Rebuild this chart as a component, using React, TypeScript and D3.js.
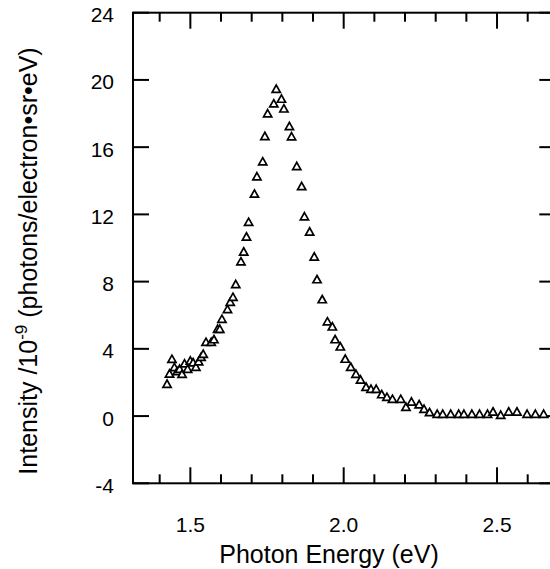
import React from "react";
import * as d3 from "d3";

const energy = [
  1.424, 1.432, 1.44, 1.448, 1.457, 1.465, 1.473, 1.481, 1.491, 1.5, 1.509, 1.518, 1.527, 1.535, 1.542,
  1.551, 1.568, 1.577, 1.589, 1.596, 1.603, 1.621, 1.63, 1.639, 1.648, 1.665, 1.674, 1.683, 1.69, 1.709,
  1.717, 1.736, 1.743, 1.752, 1.772, 1.78, 1.797, 1.805, 1.823, 1.83, 1.847, 1.863, 1.872, 1.889, 1.904,
  1.913, 1.93, 1.947, 1.963, 1.972, 1.989, 2.005, 2.023, 2.04, 2.055, 2.073, 2.089, 2.106, 2.124, 2.141,
  2.159, 2.186, 2.203, 2.221, 2.246, 2.262, 2.28, 2.305, 2.323, 2.349, 2.375, 2.392, 2.418, 2.443, 2.469,
  2.487, 2.512, 2.538, 2.565, 2.598, 2.625, 2.652,
];
const intensity = [
  1.89, 2.5, 3.37, 2.88, 2.64, 2.78, 2.48, 3.1, 2.78, 3.27, 3.17, 2.9, 3.23, 3.49, 3.67,
  4.38, 4.38, 4.54, 5.16, 5.16, 5.75, 6.33, 6.76, 7.06, 7.82, 9.17, 9.76, 10.65, 11.52, 13.2,
  14.23, 15.12, 16.63, 17.98, 18.57, 19.44, 18.85, 18.27, 17.22, 16.61, 14.84, 13.65, 11.85, 10.95, 9.46,
  8.11, 6.92, 5.6, 5.3, 4.54, 4.11, 3.38, 2.9, 2.48, 2.14, 1.71, 1.59, 1.59, 1.27, 1.11,
  0.99, 0.99, 0.52, 0.83, 0.67, 0.4, 0.2, 0.1, 0.1, 0.1, 0.1, 0.1, 0.1, 0.1, 0.1,
  0.24, 0.04, 0.24, 0.24, 0.1, 0.1, 0.1,
];
const yTicks = [-4, 0, 4, 8, 12, 16, 20, 24];
const xMajorTicks = [1.5, 2.0, 2.5];
const xMinorTicks = [1.4, 1.6, 1.7, 1.8, 1.9, 2.1, 2.2, 2.3, 2.4, 2.6];
const xTickLabels = ["1.5", "2.0", "2.5"];

const W = 550;
const H = 569;
const left = 133;
const right = 555.3;
const top = 12.7;
const bottom = 483.3;

export default function App() {
  const x = d3.scaleLinear().domain([1.313, 2.69]).range([left, right]);
  const y = d3.scaleLinear().domain([-4, 24]).range([bottom, top]);
  const font = "'Liberation Sans', Arial, Helvetica, sans-serif";
  const tri = "M0,-4.3L4.1,3L-4.1,3Z";
  return (
    <svg
      width={W}
      height={H}
      style={{ position: "absolute", left: 0, top: 0, background: "#fff", overflow: "hidden" }}
    >
      <rect x={0} y={0} width={W} height={H} fill="#fff" />
      {/* frame */}
      <rect x={left} y={top} width={right - left} height={bottom - top} fill="none" stroke="#000" strokeWidth={2} />
      {/* y ticks */}
      {yTicks.map((t) => (
        <g key={"y" + t}>
          <line x1={left} x2={left + 16} y1={y(t)} y2={y(t)} stroke="#000" strokeWidth={2} />
          <line x1={right} x2={right - 16} y1={y(t)} y2={y(t)} stroke="#000" strokeWidth={2} />
          <text x={114} y={y(t) + 9.5} textAnchor="end" fontFamily={font} fontSize={21} fill="#000">
            {t}
          </text>
        </g>
      ))}
      {/* x ticks */}
      {xMajorTicks.map((t, i) => (
        <g key={"xm" + t}>
          <line x1={x(t)} x2={x(t)} y1={bottom} y2={bottom - 16} stroke="#000" strokeWidth={2} />
          <line x1={x(t)} x2={x(t)} y1={top} y2={top + 16} stroke="#000" strokeWidth={2} />
          <text x={x(t)} y={531.5} textAnchor="middle" fontFamily={font} fontSize={21} fill="#000">
            {xTickLabels[i]}
          </text>
        </g>
      ))}
      {xMinorTicks.map((t) => (
        <g key={"xn" + t}>
          <line x1={x(t)} x2={x(t)} y1={bottom} y2={bottom - 9} stroke="#000" strokeWidth={2} />
          <line x1={x(t)} x2={x(t)} y1={top} y2={top + 9} stroke="#000" strokeWidth={2} />
        </g>
      ))}
      {/* data */}
      {energy.map((e, i) => (
        <path
          key={"p" + i}
          d={tri}
          transform={`translate(${x(e)},${y(intensity[i])})`}
          fill="#fff"
          stroke="#000"
          strokeWidth={1.7}
          strokeLinejoin="miter"
        />
      ))}
      {/* axis titles */}
      <text x={329} y={563} textAnchor="middle" fontFamily={font} fontSize={25} fill="#000">
        Photon Energy (eV)
      </text>
      <text
        transform={`translate(37,261) rotate(-90)`}
        textAnchor="middle"
        fontFamily={font}
        fontSize={25}
        fill="#000"
      >
        Intensity /10
        <tspan fontSize={17} dy={-10}>-9</tspan>
        <tspan dy={10}> (photons/electron•sr•eV)</tspan>
      </text>
    </svg>
  );
}
